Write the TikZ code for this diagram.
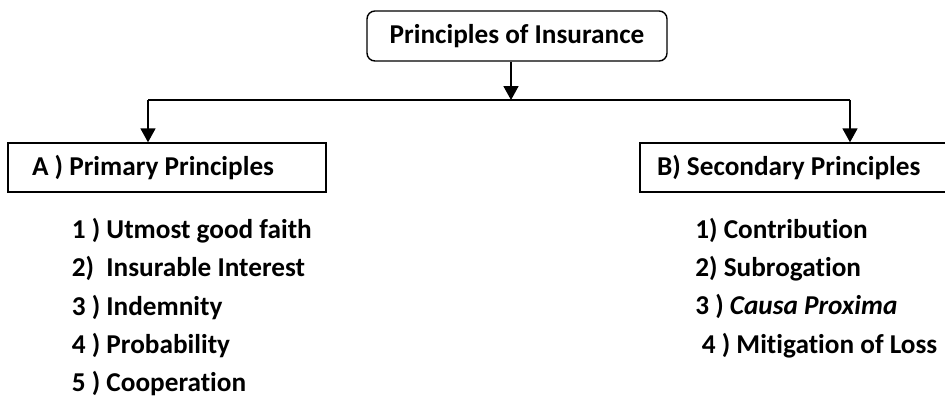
\documentclass[tikz,border=0pt]{standalone}
\usepackage{fontspec}
\setmainfont[Ligatures=NoCommon, Contextuals=NoAlternate]{Carlito}
\usepackage{tikz}
\usetikzlibrary{arrows.meta,positioning,calc}

\begin{document}
\begin{tikzpicture}[
  font=\fontsize{15.5}{21.8}\selectfont\bfseries,
  box/.style={draw, line width=0.8pt, inner sep=0pt},
  headbox/.style={box, rounded corners=4.5pt, minimum width=6.0cm, minimum height=1.0cm,
                  text height=0.9em, text depth=0pt},
  groupbox/.style={box, minimum height=0.98cm, text depth=0.25em},
  items/.style={align=left, inner sep=0pt, anchor=base west},
  flow/.style={-{Triangle[length=7.9pt, width=8.5pt]}, line width=0.9pt},
  link/.style={line width=0.9pt},
]
  \useasboundingbox (0,0) rectangle (18.9,7.96);
  \clip (0,0) rectangle (18.9,7.96);
  % --- root ---
  \node[headbox] (root) at (10.34,7.24) {Principles of Insurance};
  % --- the two groups ---
  \node[groupbox, inner xsep=0.48cm] (prim) at (3.34,4.61)
    {\makebox[5.4cm][l]{A ) Primary Principles}};
  \node[groupbox, inner xsep=0.34cm] (sec) at (15.88,4.61)
    {\makebox[5.48cm][l]{B) Secondary Principles}};
  % --- their lists (base = last line) ---
  \node[items] (primlist) at (1.43,0.126)
    {1 ) Utmost good faith\\ 2)~~Insurable Interest\\ 3 ) Indemnity\\
     4 ) Probability\\ 5 ) Cooperation};
  \node[items] (seclist) at (13.9,0.894)
    {1) Contribution\\ 2) Subrogation\\ 3 ) \textit{Causa Proxima}\\
     \hspace*{0.13cm}4 ) Mitigation of Loss};
  % --- branch ---
  \coordinate (jn) at (10.22,5.96);
  \coordinate (primin) at (2.96,5.96);
  \coordinate (secin) at (17.0,5.96);
  \draw[flow] (root.south -| jn) -- (jn);
  \draw[link] (primin) -- (secin);
  \draw[flow] (primin) -- (primin |- prim.north);
  \draw[flow] (secin) -- (secin |- sec.north);
\end{tikzpicture}
\end{document}
